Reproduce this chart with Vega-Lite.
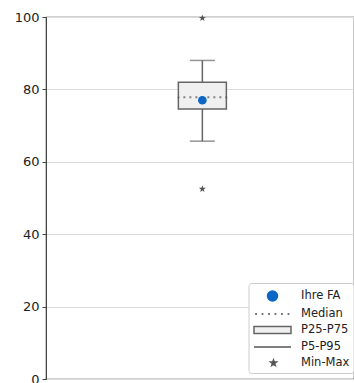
{
  "$schema": "https://vega.github.io/schema/vega-lite/v6.json",
  "width": 308,
  "height": 362,
  "autosize": "none",
  "padding": {"left": 46, "top": 17, "right": 0, "bottom": 4},
  "background": "white",
  "config": {
    "font": "DejaVu Sans",
    "view": {"stroke": "#444", "strokeWidth": 1.2},
    "axis": {"labelFont": "DejaVu Sans", "labelFontSize": 13, "labelColor": "#222", "tickColor": "#444", "domainColor": "#444", "gridColor": "#dcdcdc", "tickSize": 4, "labelPadding": 3}
  },
  "datasets": {
    "stats": [{"group": "FA", "p5": 65.7, "p25": 74.6, "median": 77.8, "p75": 82, "p95": 88, "min": 52.5, "max": 99.7, "value": 77}],
    "legend": [
      {"label": "Ihre FA"},
      {"label": "Median"},
      {"label": "P25-P75"},
      {"label": "P5-P95"},
      {"label": "Min-Max"}
    ]
  },
  "data": {"name": "stats"},
  "encoding": {
    "x": {"field": "group", "type": "nominal", "axis": null, "scale": {"paddingInner": 0, "paddingOuter": 2.708, "align": 0.5115}}
  },
  "layer": [
    {
      "mark": {"type": "rule", "stroke": "#666", "strokeWidth": 1.5},
      "encoding": {
        "y": {"field": "p5", "type": "quantitative", "scale": {"domain": [0, 100], "nice": false}, "axis": {"values": [0, 20, 40, 60, 80, 100], "title": null, "grid": true}},
        "y2": {"field": "p95"}
      }
    },
    {
      "mark": {"type": "bar", "fill": "#f0f0f0", "stroke": "#666", "strokeWidth": 1.5, "width": 48},
      "encoding": {"y": {"field": "p25", "type": "quantitative"}, "y2": {"field": "p75"}}
    },
    {
      "mark": {"type": "tick", "size": 48, "thickness": 0.001, "fill": "transparent", "stroke": "#555", "strokeWidth": 2, "strokeDash": [1, 5]},
      "encoding": {"y": {"field": "median", "type": "quantitative"}}
    },
    {
      "mark": {"type": "tick", "size": 25, "thickness": 1.5, "color": "#666"},
      "encoding": {"y": {"field": "p5", "type": "quantitative"}}
    },
    {
      "mark": {"type": "tick", "size": 25, "thickness": 1.5, "color": "#666"},
      "encoding": {"y": {"field": "p95", "type": "quantitative"}}
    },
    {
      "mark": {"type": "point", "filled": true, "color": "#0b66c8", "opacity": 1, "size": 75},
      "encoding": {"y": {"field": "value", "type": "quantitative"}}
    },
    {
      "transform": [{"fold": ["min", "max"], "as": ["stat", "v"]}],
      "mark": {"type": "point", "shape": "M0,-1L0.235,-0.324L0.951,-0.309L0.380,0.124L0.588,0.809L0,0.4L-0.588,0.809L-0.380,0.124L-0.951,-0.309L-0.235,-0.324Z", "filled": true, "color": "#555", "opacity": 1, "size": 55},
      "encoding": {"y": {"field": "v", "type": "quantitative"}}
    },
    {
      "data": {"name": "legend"},
      "mark": {"type": "point", "opacity": 0, "strokeWidth": 1.5},
      "encoding": {
        "x": {"value": 0},
        "y": {"value": 0},
        "shape": {"field": "label", "type": "nominal", "sort": null, "scale": {"domain": ["Ihre FA", "Median", "P25-P75", "P5-P95", "Min-Max"], "range": [
          "M0.75,0A0.625,0.625 0 1,0 2,0A0.625,0.625 0 1,0 0.75,0Z",
          "M-0.8,0H-0.57M0.01,0H0.24M0.82,0H1.05M1.63,0H1.86M2.44,0H2.67M3.26,0H3.49",
          "M-0.9375,-0.4375H3.6875V0.4375H-0.9375Z",
          "M-0.9375,0H3.6875",
          "M1.5,-0.375L1.588,-0.121L1.857,-0.116L1.643,0.046L1.7205,0.303L1.5,0.15L1.2795,0.303L1.357,0.046L1.143,-0.116L1.412,-0.121Z"
        ]}, "legend": {"title": null, "orient": "none", "legendX": 202.5, "legendY": 266, "symbolSize": 256, "symbolOpacity": 1, "symbolStrokeWidth": 1.5, "labelFont": "DejaVu Sans", "labelFontSize": 11.5, "labelColor": "#222", "labelOffset": 30.5, "strokeColor": "#ccc", "fillColor": "white", "cornerRadius": 3, "padding": 4, "rowPadding": 1}},
        "fill": {"field": "label", "type": "nominal", "sort": null, "scale": {"domain": ["Ihre FA", "Median", "P25-P75", "P5-P95", "Min-Max"], "range": ["#0b66c8", "transparent", "#f0f0f0", "transparent", "#555"]}, "legend": {"title": null}},
        "stroke": {"field": "label", "type": "nominal", "sort": null, "scale": {"domain": ["Ihre FA", "Median", "P25-P75", "P5-P95", "Min-Max"], "range": ["#0b66c8", "#444", "#666", "#555", "#555"]}, "legend": {"title": null}}
      }
    }
  ]
}
